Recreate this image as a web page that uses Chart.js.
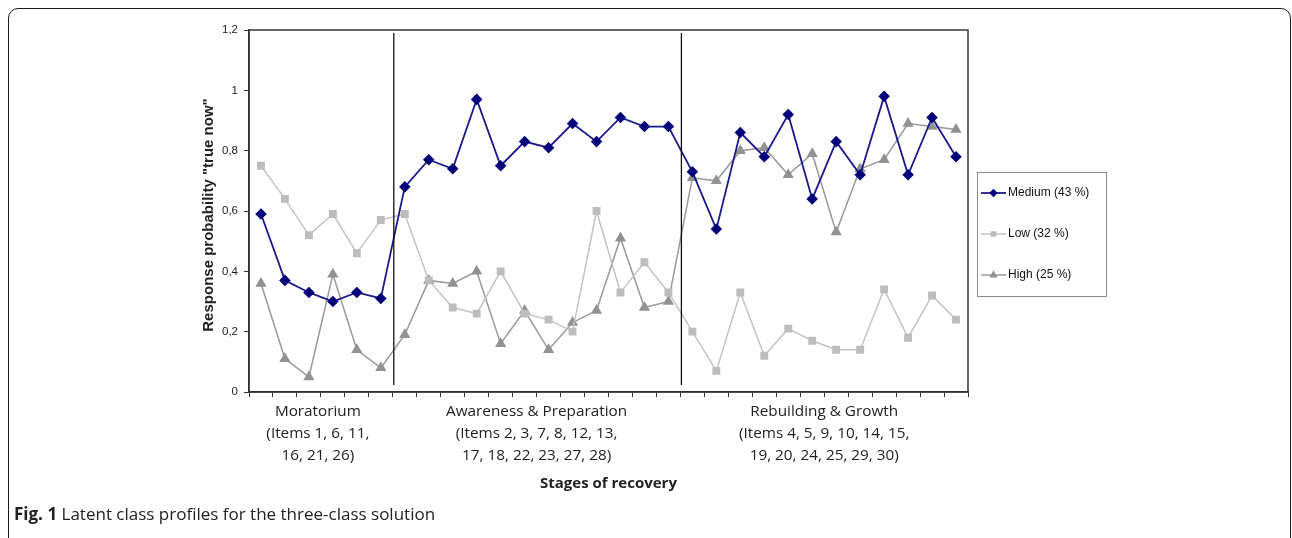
<!DOCTYPE html>
<html>
<head>
<meta charset="utf-8">
<script src="https://cdn.jsdelivr.net/npm/chart.js@4.4.1/dist/chart.umd.min.js"></script>
<style>
body { margin: 0; background: #fff; }
#wrap { position: relative; width: 1292px; height: 538px; overflow: hidden; }
#frame { position: absolute; left: 8px; top: 8px; width: 1283px; height: 545px; border: 1.6px solid #1a1a1a; border-radius: 10px; box-sizing: border-box; }
#cap { position: absolute; left: 14px; top: 502px; font-family: "Open Sans"; font-size: 17px; color: #222; }
canvas { position: absolute; left: 0; top: 0; }
</style>
</head>
<body>
<div id="wrap">
  <div id="frame"></div>
  <canvas id="c" width="1292" height="538"></canvas>
  <div id="cap"><b>Fig. 1</b> Latent class profiles for the three-class solution</div>
</div>
<script>
// items in plotted order, grouped by stage
const items = [1, 6, 11, 16, 21, 26,
  2, 3, 7, 8, 12, 13, 17, 18, 22, 23, 27, 28,
  4, 5, 9, 10, 14, 15, 19, 20, 24, 25, 29, 30];

const medium = [0.59, 0.37, 0.33, 0.30, 0.33, 0.31,
  0.68, 0.77, 0.74, 0.97, 0.75, 0.83, 0.81, 0.89, 0.83, 0.91, 0.88, 0.88,
  0.73, 0.54, 0.86, 0.78, 0.92, 0.64, 0.83, 0.72, 0.98, 0.72, 0.91, 0.78];
const low = [0.75, 0.64, 0.52, 0.59, 0.46, 0.57,
  0.59, 0.37, 0.28, 0.26, 0.40, 0.26, 0.24, 0.20, 0.60, 0.33, 0.43, 0.33,
  0.20, 0.07, 0.33, 0.12, 0.21, 0.17, 0.14, 0.14, 0.34, 0.18, 0.32, 0.24];
const high = [0.36, 0.11, 0.05, 0.39, 0.14, 0.08,
  0.19, 0.37, 0.36, 0.40, 0.16, 0.27, 0.14, 0.23, 0.27, 0.51, 0.28, 0.30,
  0.71, 0.70, 0.80, 0.81, 0.72, 0.79, 0.53, 0.74, 0.77, 0.89, 0.88, 0.87];

const yTickLabels = ['0', '0,2', '0,4', '0,6', '0,8', '1', '1,2'];

const stageLabels = [
  ['Moratorium', '(Items 1, 6, 11,', '16, 21, 26)'],
  ['Awareness & Preparation', '(Items 2, 3, 7, 8, 12, 13,', '17, 18, 22, 23, 27, 28)'],
  ['Rebuilding & Growth', '(Items 4, 5, 9, 10, 14, 15,', '19, 20, 24, 25, 29, 30)']
];
const stageRanges = [[0, 5], [6, 17], [18, 29]];

const extras = {
  id: 'extras',
  afterDatasetsDraw(chart) {
    const ctx = chart.ctx;
    const a = chart.chartArea;
    const x = chart.scales.x;
    ctx.save();
    // plot frame
    ctx.strokeStyle = '#333';
    ctx.lineWidth = 1.5;
    ctx.strokeRect(a.left, a.top, a.right - a.left, a.bottom - a.top);
    // stage separators
    ctx.lineWidth = 1.3;
    ctx.strokeStyle = '#111';
    for (let i = 0; i < stageRanges.length - 1; i++) {
      const px = x.getPixelForValue(stageRanges[i][1] + 0.5) + 1;
      ctx.beginPath();
      ctx.moveTo(px, a.top + 3);
      ctx.lineTo(px, a.bottom - 7);
      ctx.stroke();
    }
    // stage labels
    ctx.fillStyle = '#222';
    ctx.textAlign = 'center';
    ctx.textBaseline = 'middle';
    ctx.font = '15.3px "Open Sans"';
    stageLabels.forEach((lines, i) => {
      const cx = (x.getPixelForValue(stageRanges[i][0]) + x.getPixelForValue(stageRanges[i][1])) / 2;
      lines.forEach((t, j) => ctx.fillText(t, cx - (i === 0 ? 3 : 0), 412 + j * 22));
    });
    // axis titles
    ctx.font = 'bold 15px "Open Sans"';
    ctx.fillText('Stages of recovery', (a.left + a.right) / 2, 484);
    ctx.font = 'bold 15px "Liberation Sans"';
    ctx.translate(209, 215);
    ctx.rotate(-Math.PI / 2);
    ctx.fillText('Response probability "true now"', 0, 0);
    ctx.restore();

    // legend
    ctx.save();
    ctx.strokeStyle = '#888';
    ctx.lineWidth = 1;
    ctx.strokeRect(977.5, 172.5, 129, 124);
    ctx.font = '12px "Liberation Sans"';
    ctx.textBaseline = 'middle';
    chart.data.datasets.forEach((ds, i) => {
      const y = 193 + i * 41;
      ctx.strokeStyle = ds.borderColor;
      ctx.lineWidth = ds.borderWidth;
      ctx.beginPath();
      ctx.moveTo(981, y);
      ctx.lineTo(1006, y);
      ctx.stroke();
      ctx.fillStyle = ds.pointBackgroundColor;
      ctx.strokeStyle = ds.pointBackgroundColor;
      Chart.helpers.drawPoint(ctx, {
        pointStyle: ds.pointStyle, radius: ds.pointRadius * 0.65, borderWidth: 1
      }, 993.5, y);
      ctx.fillStyle = '#111';
      ctx.fillText(ds.label, 1008, y);
    });
    ctx.restore();
  }
};

new Chart(document.getElementById('c'), {
  type: 'line',
  data: {
    labels: items,
    datasets: [{
      label: 'Medium (43 %)',
      data: medium,
      borderColor: '#1a1a8c',
      backgroundColor: '#00007a',
      pointBackgroundColor: '#00007a',
      pointBorderColor: '#00007a',
      pointStyle: 'rectRot',
      pointRadius: 4.5,
      borderWidth: 1.8,
      tension: 0
    }, {
      label: 'Low (32 %)',
      data: low,
      borderColor: '#c4c4c4',
      backgroundColor: '#bdbdbd',
      pointBackgroundColor: '#bdbdbd',
      pointBorderColor: '#bdbdbd',
      pointStyle: 'rect',
      pointRadius: 4.5,
      borderWidth: 1.5,
      tension: 0
    }, {
      label: 'High (25 %)',
      data: high,
      borderColor: '#999999',
      backgroundColor: '#929292',
      pointBackgroundColor: '#929292',
      pointBorderColor: '#929292',
      pointStyle: 'triangle',
      pointRadius: 5,
      borderWidth: 1.5,
      tension: 0
    }]
  },
  options: {
    responsive: false,
    animation: false,
    devicePixelRatio: 1,
    layout: { padding: { left: 0, top: 30, right: 324, bottom: 0 } },
    plugins: {
      legend: { display: false },
      tooltip: { enabled: false }
    },
    scales: {
      x: {
        offset: true,
        grid: { offset: true, drawOnChartArea: false, tickLength: 5, color: '#333', tickColor: '#333' },
        border: { color: '#333', width: 1.5 },
        ticks: { display: false },
        afterFit(s) { s.height = 538 - 392; }
      },
      y: {
        min: 0,
        max: 1.2,
        grid: { drawOnChartArea: false, tickLength: 5, color: '#333', tickColor: '#333' },
        border: { color: '#333', width: 1.5 },
        ticks: {
          stepSize: 0.2,
          padding: 6,
          color: '#222',
          font: { family: 'Liberation Sans', size: 11.5 },
          callback: (v, i) => yTickLabels[i]
        },
        afterFit(s) { s.width = 249; }
      }
    }
  },
  plugins: [extras]
});
</script>
</body>
</html>
